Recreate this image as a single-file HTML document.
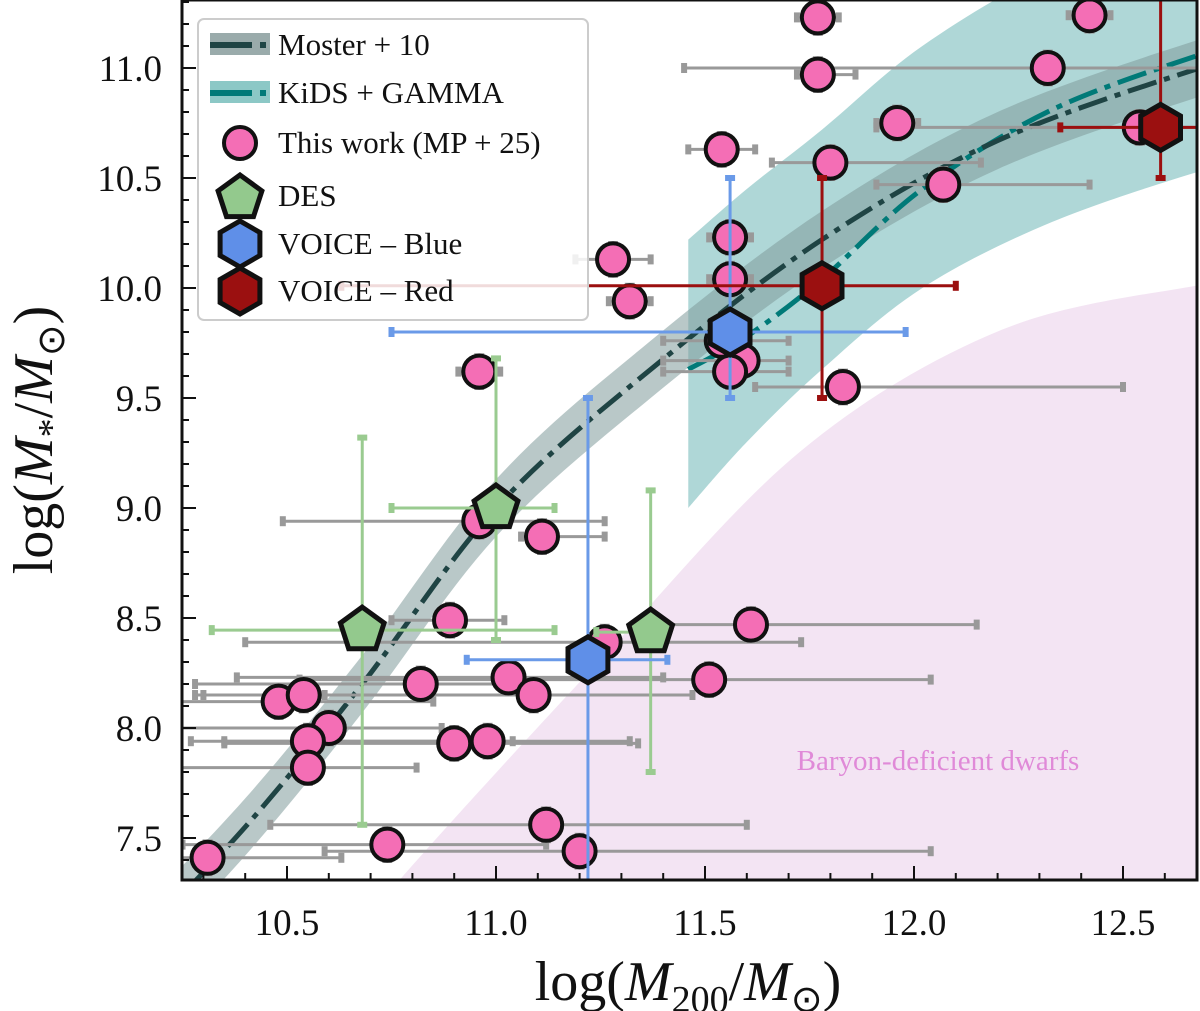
<!DOCTYPE html>
<html><head><meta charset="utf-8">
<style>
html,body{margin:0;padding:0;background:#fff;}
svg{display:block;font-family:"Liberation Serif",serif;}
</style></head>
<body>
<svg id="chart" width="1200" height="1011" viewBox="0 0 1200 1011"></svg>
<script>
// ---- data ----
const pinkX   = [11.77,12.42,11.77,12.32,11.96,11.54,11.80,12.07,12.54,11.28,11.32,11.56,11.56,11.54,11.59,11.56,11.83,10.96,10.96,11.11,10.89,11.61,11.26,11.51,11.03,11.09,10.82,10.48,10.54,10.60,10.55,10.55,10.90,10.98,11.12,11.20,10.74,10.31];
const pinkY   = [11.23,11.24,10.97,11.00,10.75,10.63,10.57,10.47,10.73,10.13,9.94,10.23,10.04,9.76,9.67,9.62,9.55,9.62,8.94,8.87,8.49,8.47,8.39,8.22,8.23,8.15,8.20,8.12,8.15,8.00,7.94,7.82,7.93,7.94,7.56,7.44,7.47,7.41];
const pinkXlo = [11.72,12.37,11.72,11.45,11.91,11.46,11.66,11.91,11.91,11.19,11.27,11.51,11.51,11.40,11.40,11.40,11.62,10.91,10.49,11.06,10.75,11.38,10.40,10.53,10.38,10.28,10.28,10.00,10.30,10.20,10.27,10.10,10.35,10.35,10.46,10.59,10.25,10.20];
const pinkXhi = [11.82,12.47,11.86,12.80,12.01,11.62,12.16,12.42,12.80,11.37,11.37,11.61,11.61,11.70,11.70,11.70,12.50,11.01,11.26,11.26,11.02,12.15,11.73,12.04,11.40,11.47,11.11,10.85,10.59,10.87,11.32,10.81,11.34,11.04,11.60,12.04,11.12,10.63];
const desX=[10.68,11.00,11.37], desY=[8.445,9.0,8.436];
const desXlo=[10.32,10.75,11.24], desXhi=[11.14,11.14,11.41], desYlo=[7.56,8.40,7.80], desYhi=[9.32,9.68,9.08];
const blueX=[11.56,11.22], blueY=[9.80,8.31], blueXlo=[10.75,10.93], blueXhi=[11.98,11.41], blueYlo=[9.5,7.2], blueYhi=[10.5,9.5];
const redX=[11.78,12.59], redY=[10.01,10.73], redXlo=[10.63,12.35], redXhi=[12.10,12.80], redYlo=[9.5,10.5], redYhi=[10.5,11.4];
const mosterX=[10.10,10.40,10.68,11.00,11.37,11.78,12.20,12.70,12.90];
const mosterY=[6.95,7.55,8.20,9.00,9.63,10.22,10.67,11.01,11.10];
const kidsX=[11.46,11.60,11.78,12.02,12.33,12.70,12.85];
const kidsY=[9.63,9.78,10.04,10.45,10.81,11.07,11.14];
const kidsUp=[10.22,10.45,10.72,11.10,11.45,11.75,11.85];
const kidsLo=[9.00,9.30,9.63,10.00,10.30,10.54,10.60];
const dwarfX=[10.70,10.77,11.25,11.73,12.21,12.70,12.90];
const dwarfY=[7.10,7.31,8.31,9.26,9.81,10.02,10.08];
const xTicks=[10.5,11.0,11.5,12.0,12.5];
const yTicks=[7.5,8.0,8.5,9.0,9.5,10.0,10.5,11.0];

// ---- axes ----
const L=182,R=1197,T=0,B=880;
const sx=v=>287+(v-10.5)*418;
const sy=v=>68+(11-v)*220;
const NS="http://www.w3.org/2000/svg";
const svg=document.getElementById('chart');
function mk(tag,attrs,parent){const e=document.createElementNS(NS,tag);for(const k in attrs)e.setAttribute(k,attrs[k]);(parent||svg).appendChild(e);return e;}
function smooth(pts,move){let d=(move?'M':'L')+pts[0][0]+','+pts[0][1];
 for(let i=0;i<pts.length-1;i++){const p0=pts[Math.max(0,i-1)],p1=pts[i],p2=pts[i+1],p3=pts[Math.min(pts.length-1,i+2)];
  const c1=[p1[0]+(p2[0]-p0[0])/6,p1[1]+(p2[1]-p0[1])/6],c2=[p2[0]-(p3[0]-p1[0])/6,p2[1]-(p3[1]-p1[1])/6];
  d+=' C'+c1.join(',')+' '+c2.join(',')+' '+p2.join(',');}
 return d;}
const defs=mk('defs',{});
const cp=mk('clipPath',{id:'clip'},defs);mk('rect',{x:L,y:T,width:R-L,height:B-T},cp);
const g=mk('g',{'clip-path':'url(#clip)'});



// dwarf region
let d=smooth(dwarfX.map((x,i)=>[sx(x),sy(dwarfY[i])]),true)+' L'+(R+50)+','+(B+50)+' L'+sx(dwarfX[0])+','+(B+50)+' Z';
const dw=mk('path',{d:d,fill:'#f3e4f3'},g);



// kids band
const kup=kidsX.map((x,i)=>[sx(x),sy(kidsUp[i])]);
const klo=kidsX.map((x,i)=>[sx(x),sy(kidsLo[i])]).reverse();
const kbe=mk('path',{d:smooth(kup,true)+' '+smooth(klo,false)+' Z',fill:'#5fb0b0','fill-opacity':0.5},g);



// moster band
const mup=mosterX.map((x,i)=>[sx(x),sy(mosterY[i]+0.13)]);
const mlo=mosterX.map((x,i)=>[sx(x),sy(mosterY[i]-0.13)]).reverse();
const mbe=mk('path',{d:smooth(mup,true)+' '+smooth(mlo,false)+' Z',fill:'#7f9a9a','fill-opacity':0.55},g);



const kl=mk('path',{d:smooth(kidsX.map((x,i)=>[sx(x),sy(kidsY[i])]),true),fill:'none',stroke:'#007a78','stroke-width':5,'stroke-dasharray':'30,8,6,8'},g);


const ml=mk('path',{d:smooth(mosterX.map((x,i)=>[sx(x),sy(mosterY[i])]),true),fill:'none',stroke:'#1f4444','stroke-width':5,'stroke-dasharray':'30,8,6,8'},g);



function hbar(x1,x2,y,col,w){mk('line',{x1:sx(x1),x2:sx(x2),y1:sy(y),y2:sy(y),stroke:col,'stroke-width':w},g);
 [x1,x2].forEach(x=>mk('line',{x1:sx(x),x2:sx(x),y1:sy(y)-5,y2:sy(y)+5,stroke:col,'stroke-width':w+3},g));}
function vbar(y1,y2,x,col,w){mk('line',{x1:sx(x),x2:sx(x),y1:sy(y1),y2:sy(y2),stroke:col,'stroke-width':w},g);
 [y1,y2].forEach(y=>mk('line',{x1:sx(x)-5,x2:sx(x)+5,y1:sy(y),y2:sy(y),stroke:col,'stroke-width':w+3},g));}
function poly(cx,cy,r,n,rot){const p=[];for(let i=0;i<n;i++){const a=rot+i*2*Math.PI/n;p.push((cx+r*Math.cos(a)).toFixed(1)+','+(cy+r*Math.sin(a)).toFixed(1));}return p.join(' ');}

pinkX.forEach((x,i)=>{hbar(pinkXlo[i],pinkXhi[i],pinkY[i],'#999',3);vbar(pinkY[i]-0.07,pinkY[i]+0.07,x,'#999',3);});
pinkX.forEach((x,i)=>{const c=mk('circle',{cx:sx(x),cy:sy(pinkY[i]),r:16,fill:'#f46eb5',stroke:'#111','stroke-width':4},g);
 
 });
desX.forEach((x,i)=>{hbar(desXlo[i],desXhi[i],desY[i],'#9acb90',3);vbar(desYlo[i],desYhi[i],x,'#9acb90',3);});
desX.forEach((x,i)=>{const p=mk('polygon',{points:poly(sx(x),sy(desY[i]),23,5,-Math.PI/2),fill:'#93c98d',stroke:'#111','stroke-width':5},g);
 
 });
blueX.forEach((x,i)=>{hbar(blueXlo[i],blueXhi[i],blueY[i],'#6a9ae8',3);vbar(blueYlo[i],blueYhi[i],x,'#6a9ae8',3);});
blueX.forEach((x,i)=>{const p=mk('polygon',{points:poly(sx(x),sy(blueY[i]),23,6,-Math.PI/2),fill:'#5f8fe8',stroke:'#111','stroke-width':5},g);
 
 });
redX.forEach((x,i)=>{hbar(redXlo[i],redXhi[i],redY[i],'#9b0f0f',3);vbar(redYlo[i],redYhi[i],x,'#9b0f0f',3);});
redX.forEach((x,i)=>{const p=mk('polygon',{points:poly(sx(x),sy(redY[i]),23,6,-Math.PI/2),fill:'#9b1010',stroke:'#111','stroke-width':5},g);
 
 });

const dt=mk('text',{x:938,y:770,'font-size':29,fill:'#e08ad8','text-anchor':'middle'});
dt.textContent='Baryon-deficient dwarfs';



const fr=mk('rect',{x:L,y:T,width:R-L,height:B-T,fill:'none',stroke:'#111','stroke-width':3});


for(let v=10.3;v<12.75;v+=0.1){const X=sx(v);const major=xTicks.some(t=>Math.abs(t-v)<1e-6);
 mk('line',{x1:X,x2:X,y1:B,y2:B-(major?14:7),stroke:'#111','stroke-width':2});}
for(let v=7.4;v<11.35;v+=0.1){const Y=sy(v);const major=yTicks.some(t=>Math.abs(t-v)<1e-6);
 mk('line',{x1:L,x2:L+(major?14:7),y1:Y,y2:Y,stroke:'#111','stroke-width':2});}
xTicks.forEach(t=>{const e=mk('text',{x:sx(t),y:935,'font-size':37,'text-anchor':'middle',fill:'#111'});e.textContent=t.toFixed(1);
 
 });
yTicks.forEach(t=>{const e=mk('text',{x:162,y:sy(t)+13,'font-size':37,'text-anchor':'end',fill:'#111'});e.textContent=t.toFixed(1);
 
 });

const xl=mk('text',{x:688,y:1000,'font-size':56,'text-anchor':'middle',fill:'#111'});
xl.innerHTML='log(<tspan font-style="italic">M</tspan><tspan font-size="38" dy="12">200</tspan><tspan dy="-12">/</tspan><tspan font-style="italic">M</tspan><tspan font-size="38" dy="12">⊙</tspan><tspan dy="-12">)</tspan>';


const yl=mk('text',{x:0,y:0,'font-size':56,'text-anchor':'middle',fill:'#111',transform:'translate(52,440) rotate(-90)'});
yl.innerHTML='log(<tspan font-style="italic">M</tspan><tspan font-size="38" dy="12">*</tspan><tspan dy="-12">/</tspan><tspan font-style="italic">M</tspan><tspan font-size="38" dy="12">⊙</tspan><tspan dy="-12">)</tspan>';



const lg=mk('g',{});


mk('rect',{x:198,y:19,width:390,height:301,rx:6,fill:'#fff','fill-opacity':0.85,stroke:'#ccc','stroke-width':2},lg);
const labels=['Moster + 10','KiDS + GAMMA','This work (MP + 25)','DES','VOICE – Blue','VOICE – Red'];
const ly=[45,93,143,196,244,291];
labels.forEach((s,i)=>{const e=mk('text',{x:278,y:ly[i]+10,'font-size':31,fill:'#111'},lg);e.textContent=s;
 
 });
mk('rect',{x:210,y:33,width:60,height:22,fill:'#9aabab'},lg);
mk('line',{x1:210,x2:270,y1:45,y2:45,stroke:'#1f4444','stroke-width':6,'stroke-dasharray':'42,8,6,8'},lg);
mk('rect',{x:210,y:81,width:60,height:22,fill:'#8cc8c6'},lg);
mk('line',{x1:210,x2:270,y1:93,y2:93,stroke:'#007a78','stroke-width':6,'stroke-dasharray':'42,8,6,8'},lg);
mk('circle',{cx:240,cy:143,r:16,fill:'#f46eb5',stroke:'#111','stroke-width':4},lg);
mk('polygon',{points:poly(240,198,23,5,-Math.PI/2),fill:'#93c98d',stroke:'#111','stroke-width':5},lg);
mk('polygon',{points:poly(240,244,23,6,-Math.PI/2),fill:'#5f8fe8',stroke:'#111','stroke-width':5},lg);
mk('polygon',{points:poly(240,291,23,6,-Math.PI/2),fill:'#9b1010',stroke:'#111','stroke-width':5},lg);
</script>
</body></html>
